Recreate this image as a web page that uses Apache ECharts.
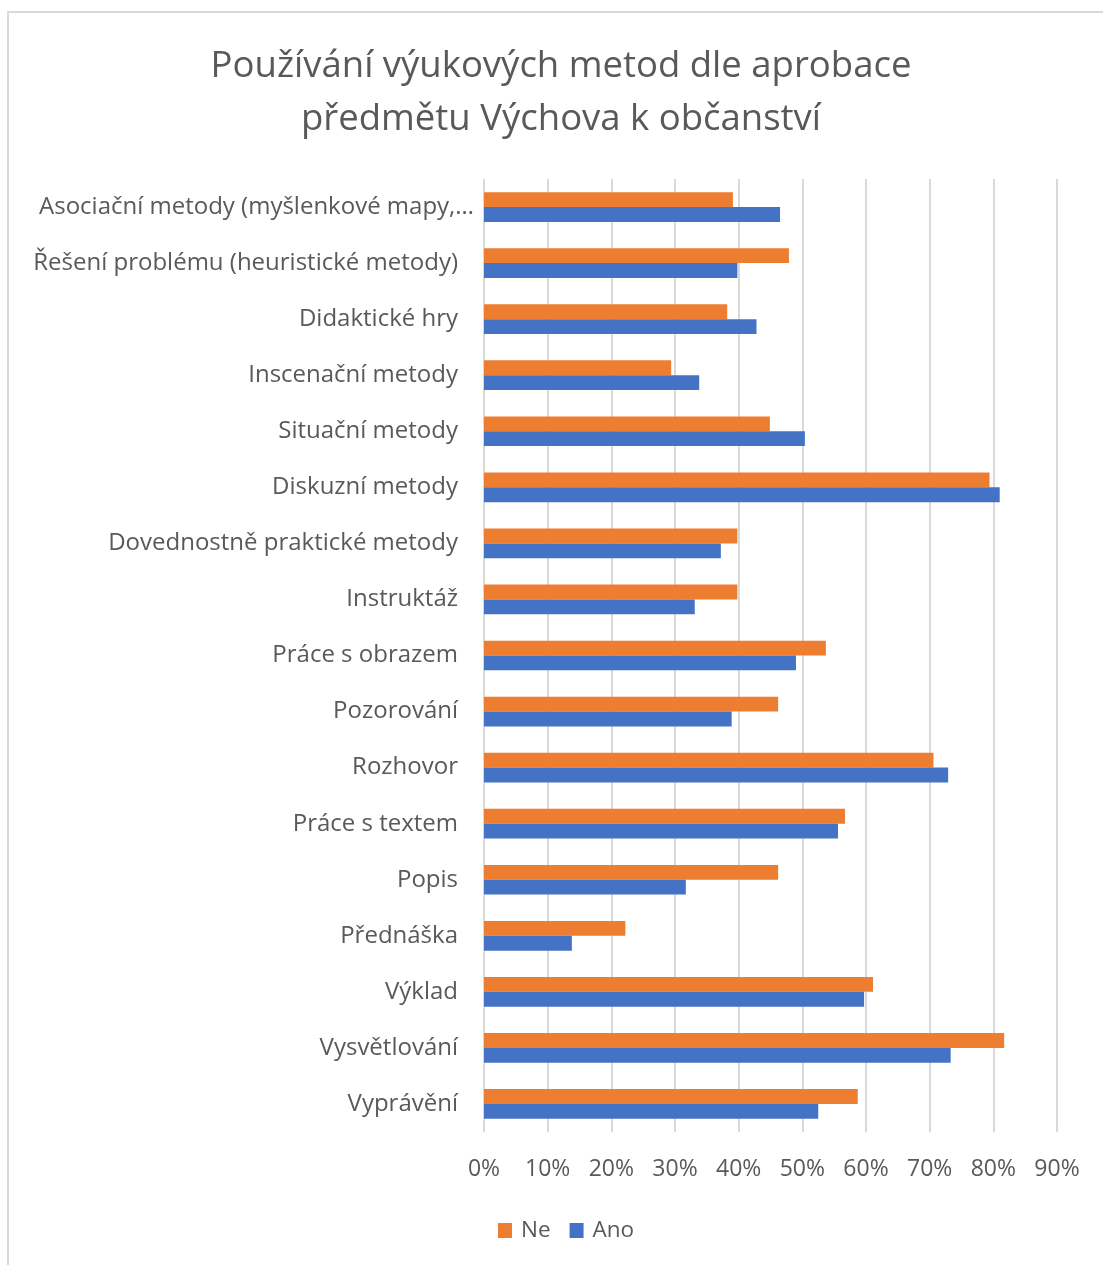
<!DOCTYPE html>
<html>
<head>
<meta charset="utf-8">
<script src="https://cdn.jsdelivr.net/npm/echarts@6/dist/echarts.min.js"></script>
<style>
    html, body { margin: 0; padding: 0; background: #fff; }
    #chart { width: 1103px; height: 1265px; }
</style>
</head>
<body>
<div id="chart"></div>
<script>
    // categories, top to bottom as in the picture
    var categories = [
        'Asociační metody (myšlenkové mapy,…',
        'Řešení problému (heuristické metody)',
        'Didaktické hry',
        'Inscenační metody',
        'Situační metody',
        'Diskuzní metody',
        'Dovednostně praktické metody',
        'Instruktáž',
        'Práce s obrazem',
        'Pozorování',
        'Rozhovor',
        'Práce s textem',
        'Popis',
        'Přednáška',
        'Výklad',
        'Vysvětlování',
        'Vyprávění'
    ];
    // values in percent
    var ne = [39.1, 47.9, 38.2, 29.4, 44.9, 79.4, 39.8, 39.8, 53.7, 46.2, 70.6, 56.7, 46.2, 22.2, 61.1, 81.7, 58.7];
    var ano = [46.5, 39.8, 42.8, 33.8, 50.4, 81.0, 37.2, 33.1, 49.0, 38.9, 72.9, 55.6, 31.7, 13.8, 59.7, 73.3, 52.5];
    var legendNames = ['Ne', 'Ano'];

    var FONT = 'Open Sans';
    var GREY = '#595959';

    var myChart = echarts.init(document.getElementById('chart'), null, {renderer: 'canvas'});
    var option = {
        backgroundColor: '#fff',
        animation: false,
        title: {
            text: 'Používání výukových metod dle aprobace\npředmětu Výchova k občanství',
            left: 556,
            textAlign: 'center',
            top: 35,
            textStyle: {
                fontFamily: FONT,
                fontWeight: 'normal',
                fontSize: 36.5,
                lineHeight: 53,
                color: GREY
            }
        },
        graphic: [{
            type: 'rect',
            shape: {x: 8, y: 12, width: 1200, height: 1300},
            style: {fill: 'none', stroke: '#d9d9d9', lineWidth: 2},
            silent: true,
            z: -10
        }],
        legend: {
            data: legendNames,
            left: 498,
            top: 1219,
            padding: 0,
            itemWidth: 14,
            itemHeight: 15,
            itemGap: 19,
            icon: 'rect',
            textStyle: {fontFamily: FONT, fontSize: 22.5, color: GREY, padding: [0, 0, 0, 4]}
        },
        grid: {
            left: 484,
            right: 46,
            top: 179,
            bottom: 133
        },
        xAxis: {
            type: 'value',
            min: 0,
            max: 90,
            interval: 10,
            axisLine: {show: false},
            axisTick: {show: false},
            splitLine: {lineStyle: {color: '#d9d9d9', width: 2}},
            axisLabel: {
                formatter: '{value}%',
                margin: 26,
                fontFamily: FONT,
                fontSize: 23,
                color: GREY
            }
        },
        yAxis: {
            type: 'category',
            inverse: true,
            data: categories,
            axisLine: {show: false},
            axisTick: {show: false},
            axisLabel: {
                margin: 26,
                fontFamily: FONT,
                fontSize: 24,
                color: GREY,
                // the truncated first label runs a bit past the others, as in the original
                formatter: function (value, index) {
                    return index === 0 ? '{cut|' + value + '}' : value;
                },
                rich: {
                    cut: {
                        fontFamily: FONT,
                        fontSize: 24,
                        color: GREY,
                        padding: [0, -16, 0, 0]
                    }
                }
            }
        },
        series: [
            {
                name: 'Ne',
                type: 'bar',
                data: ne,
                itemStyle: {color: '#ED7D31'},
                barGap: '0%',
                barCategoryGap: '47%'
            },
            {
                name: 'Ano',
                type: 'bar',
                data: ano,
                itemStyle: {color: '#4472C4'},
                barGap: '0%',
                barCategoryGap: '47%'
            }
        ]
    };
    myChart.setOption(option);
</script>
</body>
</html>
